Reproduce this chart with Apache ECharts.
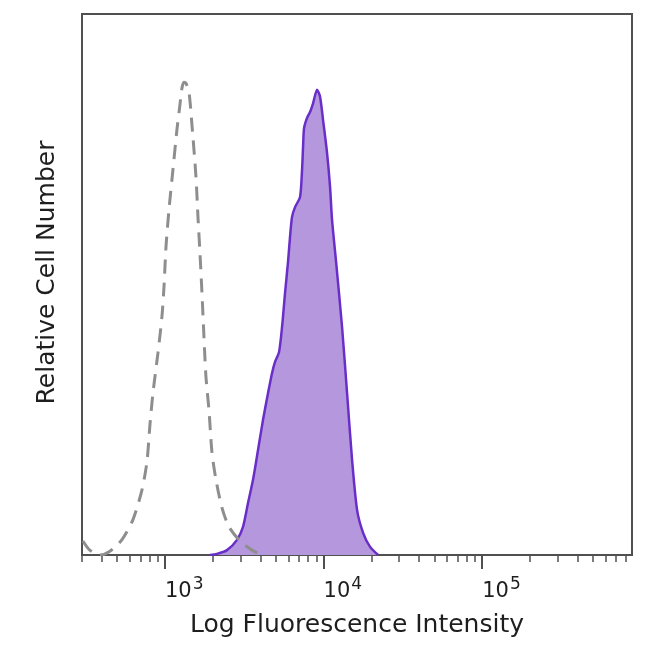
<!DOCTYPE html>
<html>
<head>
<meta charset="utf-8">
<script src="https://cdn.jsdelivr.net/npm/echarts@6/dist/echarts.min.js"></script>
<style>
  html, body { margin: 0; padding: 0; background: #fff; }
  #chart { width: 650px; height: 650px; }
</style>
</head>
<body>
<div id="chart"></div>
<script>
// isotype control (dashed grey)
const isoX = [304, 336, 389, 450, 535, 628, 716, 770, 804, 840, 903, 957, 986, 1015, 1060, 1123, 1190, 1243, 1280, 1318, 1357, 1417, 1480, 1569, 1615, 1663, 1712, 1762, 1814, 1895, 1980, 2098, 2289, 2534, 2972, 3540, 4093];
const isoY = [2.6, 0.9, 0, 0.7, 2.8, 6.5, 12.0, 17.2, 24.0, 29.9, 37.3, 44.0, 49.5, 56.9, 63.8, 71.2, 78.6, 83.2, 86.3, 87.4, 87.2, 85.6, 79.5, 69.9, 62.5, 55.8, 48.4, 40.3, 32.9, 26.8, 18.9, 13.9, 8.7, 5.2, 2.6, 0.9, 0];

// stained sample (filled purple)
const stainX = [1923, 2129, 2461, 2847, 3105, 3340, 3591, 3862, 4153, 4465, 4732, 4943, 5239, 5472, 5716, 5970, 6146, 6328, 6610, 7108, 7318, 7425, 7534, 7869, 8219, 8587, 9100, 9504, 9927, 10522, 10990, 11313, 11993, 13084, 14070, 15125, 16270, 17750, 19650, 22070];
const stainY = [0, 0.2, 0.9, 2.8, 5.2, 9.6, 13.9, 19.4, 25.0, 29.9, 33.6, 35.7, 37.5, 42.1, 48.4, 54.2, 58.8, 62.5, 64.3, 66.2, 71.2, 75.4, 78.9, 80.8, 81.9, 83.5, 86.0, 84.7, 80.4, 74.3, 68.0, 61.9, 54.2, 42.1, 29.9, 17.6, 8.3, 4.1, 1.5, 0];

const majorTicks = [1000, 10000, 100000];
const minorTicks = [300, 400, 500, 600, 700, 800, 900,
                    2000, 3000, 4000, 5000, 6000, 7000, 8000, 9000,
                    20000, 30000, 40000, 50000, 60000, 70000, 80000, 90000,
                    200000, 300000, 400000, 500000, 600000, 700000, 800000];

const xMin = 300;
const xMax = 880000;

const font = 'DejaVu Sans';
const axisCol = '#505050';

const zip = (xs, ys) => xs.map((x, i) => [x, ys[i]]);

const chart = echarts.init(document.getElementById('chart'));
chart.setOption({
    animation: false,
    grid: {
        left: 82, right: 18, top: 14, bottom: 95,
        show: true,
        borderColor: axisCol,
        borderWidth: 2
    },
    xAxis: [{
        type: 'log',
        logBase: 10,
        min: xMin,
        max: xMax,
        name: 'Log Fluorescence Intensity',
        nameLocation: 'middle',
        nameGap: 58,
        nameTextStyle: { fontFamily: font, fontSize: 25, color: '#1e1e1e' },
        axisLine: { show: true, lineStyle: { color: axisCol, width: 2 } },
        axisTick: {
            show: true, length: 14, customValues: majorTicks,
            lineStyle: { color: axisCol, width: 2 }
        },
        axisLabel: {
            customValues: majorTicks,
            align: 'left',
            margin: 21,
            formatter: v => '{b|10}{s|' + Math.round(Math.log10(v)) + '}',
            rich: {
                b: { fontFamily: font, fontSize: 21, color: '#1e1e1e', verticalAlign: 'bottom', padding: [5, 0, 0, 0] },
                s: { fontFamily: font, fontSize: 17, color: '#1e1e1e', verticalAlign: 'top', padding: [0, 0, 0, 1] }
            }
        },
        splitLine: { show: false },
        minorTick: { show: false }
    }, {
        type: 'log',
        logBase: 10,
        min: xMin,
        max: xMax,
        position: 'bottom',
        axisLine: { show: false },
        axisTick: {
            show: true, length: 7, customValues: minorTicks,
            lineStyle: { color: axisCol, width: 1.5 }
        },
        axisLabel: { show: false },
        splitLine: { show: false }
    }],
    yAxis: {
        type: 'value',
        min: 0,
        max: 100,
        name: 'Relative Cell Number',
        nameLocation: 'middle',
        nameGap: 22,
        nameTextStyle: {
            fontFamily: font, fontSize: 25, color: '#1e1e1e',
            padding: [0, 0, 0, 24]
        },
        axisLine: { show: true, lineStyle: { color: axisCol, width: 2 } },
        axisTick: { show: false },
        axisLabel: { show: false },
        splitLine: { show: false }
    },
    series: [{
        name: 'Stained',
        type: 'line',
        xAxisIndex: 0,
        data: zip(stainX, stainY),
        showSymbol: false,
        smooth: 0.25,
        lineStyle: { color: '#6a2ec8', width: 2.5 },
        areaStyle: { color: '#b597dd', opacity: 1 },
        z: 2
    }, {
        name: 'Isotype',
        type: 'line',
        xAxisIndex: 0,
        data: zip(isoX, isoY),
        showSymbol: false,
        smooth: 0.25,
        lineStyle: { color: '#8e8e8e', width: 3, type: [14, 9] },
        z: 3
    }]
});
</script>
</body>
</html>
